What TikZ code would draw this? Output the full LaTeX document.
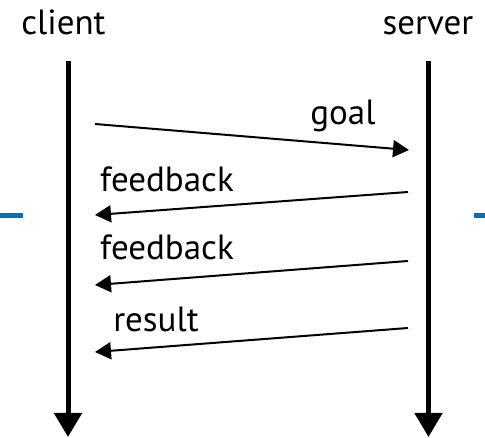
\documentclass[tikz,border=0pt]{standalone}
\usepackage{fontspec}
\setmainfont{PT Sans}
\usetikzlibrary{arrows.meta}
\definecolor{markblue}{HTML}{0070C0}
\begin{document}
\begin{tikzpicture}[x=1pt,y=-1pt,
  lifeline/.style={line width=5pt,-{Triangle[length=24pt,width=27pt]}},
  msg/.style={line width=2pt,-{Triangle[length=16pt,width=17pt]}},
  lbl/.style={font=\fontsize{35}{35}\selectfont,anchor=base,inner sep=0pt},
  sidetick/.style={line width=5pt,markblue}]
\useasboundingbox (0,0) rectangle (485,438);
% participants
\node[lbl] (client) at (63.5,35) {client};
\node[lbl] (server) at (428,35) {server};
% lifelines
\coordinate (ctop) at (68,61);
\coordinate (cbot) at (68,437);
\coordinate (stop) at (428.5,61);
\coordinate (sbot) at (428.5,437);
\draw[lifeline] (ctop) -- (cbot);
\draw[lifeline] (stop) -- (sbot);
% message end points
\coordinate (g1) at (95,124);  \coordinate (g2) at (409,150);
\coordinate (f1) at (408,192); \coordinate (f2) at (95,215);
\coordinate (h1) at (408,261); \coordinate (h2) at (95,285);
\coordinate (r1) at (408,328); \coordinate (r2) at (95,352);
\draw[msg] (g1) -- (g2);
\draw[msg] (f1) -- (f2);
\draw[msg] (h1) -- (h2);
\draw[msg] (r1) -- (r2);
% labels
\node[lbl] (goal) at (343,125) {goal};
\node[lbl] (fb1) at (167,192) {feedback};
\node[lbl] (fb2) at (167,260) {feedback};
\node[lbl] (res) at (156,332) {result};
% side ticks
\coordinate (ml1) at (0,215.5); \coordinate (ml2) at (23,215.5);
\coordinate (mr1) at (474,215.5); \coordinate (mr2) at (485,215.5);
\draw[sidetick] (ml1) -- (ml2);
\draw[sidetick] (mr1) -- (mr2);
\end{tikzpicture}
\end{document}
